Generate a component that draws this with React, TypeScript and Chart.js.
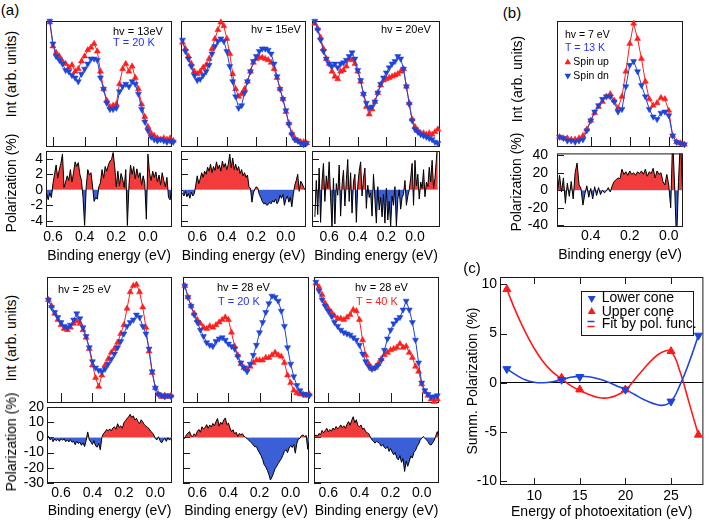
import React, { useEffect, useRef } from "react";
import { Chart, registerables } from "chart.js";

Chart.register(...registerables);

const FONT = "'Liberation Sans', Arial, Helvetica, sans-serif";
Chart.defaults.font.family = FONT;
Chart.defaults.font.size = 14;
Chart.defaults.color = "#000";

// ---------------- colours ----------------
const RED = "#ff1f1f";
const BLUE = "#1e44d8";
const RED_FILL = "#f23b3b";
const BLUE_FILL = "#3b5fd6";
const T_BLUE = "#2233ff";
const T_RED = "#ff2222";

// ---------------- tick values ----------------
const X_TICKS_A = [0.6, 0.4, 0.2, 0.0];
const X_TICKS_B = [0.4, 0.2, 0.0];
const X_MINOR_B = [0.4, 0.3, 0.2, 0.1, 0.0];
const Y_TICKS_ROW1 = [-4, -2, 0, 2, 4];
const Y_TICKS_ROW2 = [-30, -20, -10, 0, 10, 20];
const Y_TICKS_B = [-40, -20, 0, 20, 40];
const Y_TICKS_C = [-10, -5, 0, 5, 10];
const X_TICKS_C = [10, 15, 20, 25];

// ---------------- binding-energy grids (eV) ----------------
const E_SPEC = [
  0.70, 0.68, 0.66, 0.64, 0.62, 0.60, 0.58, 0.56, 0.54, 0.52,
  0.50, 0.48, 0.46, 0.44, 0.42, 0.40, 0.38, 0.36, 0.34, 0.32,
  0.30, 0.28, 0.26, 0.24, 0.22, 0.20, 0.18, 0.16, 0.14, 0.12,
  0.10, 0.08, 0.06, 0.04, 0.02, 0.00, -0.02, -0.04, -0.06, -0.08,
  -0.10, -0.12, -0.14, -0.16,
];
const E_POL = [
  0.70, 0.69, 0.68, 0.67, 0.66, 0.65, 0.64, 0.63, 0.62, 0.61,
  0.60, 0.59, 0.58, 0.57, 0.56, 0.55, 0.54, 0.53, 0.52, 0.51,
  0.50, 0.49, 0.48, 0.47, 0.46, 0.45, 0.44, 0.43, 0.42, 0.41,
  0.40, 0.39, 0.38, 0.37, 0.36, 0.35, 0.34, 0.33, 0.32, 0.31,
  0.30, 0.29, 0.28, 0.27, 0.26, 0.25, 0.24, 0.23, 0.22, 0.21,
  0.20, 0.19, 0.18, 0.17, 0.16, 0.15, 0.14, 0.13, 0.12, 0.11,
  0.10, 0.09, 0.08, 0.07, 0.06, 0.05, 0.04, 0.03, 0.02, 0.01,
  0.00, -0.01, -0.02, -0.03, -0.04, -0.05, -0.06, -0.07, -0.08, -0.09,
  -0.10, -0.11, -0.12, -0.13, -0.14, -0.15, -0.16,
];

// ---------------- spectra (arb. units, 0..1 of panel) ----------------
const UP_13 = [
  null, null, null, null, 0.99, 0.80, 0.75, 0.72, 0.68, 0.66,
  0.63, 0.65, 0.60, 0.62, 0.68, 0.72, 0.77, 0.79, 0.82, 0.76,
  0.60, 0.46, 0.37, 0.32, 0.33, 0.34, 0.50, 0.62, 0.66, 0.60,
  0.64, 0.55, 0.46, 0.34, 0.24, 0.16, 0.11, 0.09, 0.07, 0.06,
  0.07, 0.06, 0.07, 0.05,
];
const DN_13 = [
  null, null, null, null, 1.00, 0.82, 0.72, 0.69, 0.66, 0.61,
  0.60, 0.57, 0.55, 0.52, 0.58, 0.62, 0.66, 0.70, 0.70, 0.69,
  0.55, 0.46, 0.35, 0.30, 0.30, 0.31, 0.44, 0.48, 0.50, 0.48,
  0.52, 0.50, 0.42, 0.30, 0.20, 0.13, 0.08, 0.06, 0.05, 0.06,
  0.05, 0.04, 0.05, 0.04,
];
const UP_15 = [
  0.83, 0.78, 0.72, 0.66, 0.60, 0.58, 0.60, 0.63, 0.65, 0.70,
  0.78, 0.86, 0.93, 0.99, 0.96, 0.86, 0.74, 0.58, 0.46, 0.40,
  0.42, 0.46, 0.52, 0.60, 0.67, 0.70, 0.71, 0.71, 0.70, 0.69,
  0.67, 0.62, 0.55, 0.46, 0.38, 0.28, 0.19, 0.11, 0.07, 0.05,
  0.04, 0.04, 0.03, null,
];
const DN_15 = [
  0.85, 0.76, 0.70, 0.64, 0.57, 0.53, 0.54, 0.57, 0.60, 0.65,
  0.74, 0.80, 0.84, 0.86, 0.84, 0.76, 0.64, 0.52, 0.40, 0.31,
  0.33, 0.43, 0.52, 0.60, 0.68, 0.72, 0.76, 0.78, 0.78, 0.77,
  0.74, 0.66, 0.56, 0.46, 0.38, 0.29, 0.18, 0.10, 0.06, 0.05,
  0.03, 0.02, 0.03, null,
];
const UP_20 = [
  0.98, 0.94, 0.87, 0.78, 0.70, 0.66, 0.60, 0.56, 0.54, 0.60,
  0.61, 0.64, 0.70, 0.69, 0.66, 0.60, 0.52, 0.42, 0.32, 0.26,
  0.30, 0.36, 0.43, 0.49, 0.53, 0.54, 0.55, 0.56, 0.57, 0.58,
  0.60, 0.62, 0.48, 0.35, 0.22, 0.16, 0.13, 0.11, 0.11, 0.10,
  0.11, 0.10, 0.12, 0.14,
];
const DN_20 = [
  1.00, 0.93, 0.85, 0.76, 0.70, 0.66, 0.64, 0.66, 0.63, 0.66,
  0.67, 0.69, 0.72, 0.75, 0.70, 0.61, 0.53, 0.42, 0.35, 0.31,
  0.32, 0.36, 0.43, 0.50, 0.55, 0.59, 0.63, 0.66, 0.68, 0.72,
  0.70, 0.62, 0.48, 0.34, 0.21, 0.14, 0.12, 0.10, 0.09, 0.08,
  0.07, 0.06, 0.04, 0.03,
];
const UP_25 = [
  null, 0.82, 0.77, 0.71, 0.66, 0.62, 0.59, 0.58, 0.60, 0.63,
  0.65, 0.63, 0.58, 0.52, 0.43, 0.30, 0.20, 0.13, 0.22, 0.30,
  0.35, 0.40, 0.43, 0.48, 0.55, 0.62, 0.75, 0.88, 0.93, 0.94,
  0.88, 0.76, 0.60, 0.41, 0.24, 0.12, 0.07, 0.05, 0.06, 0.05,
  0.06, null, null, null,
];
const DN_25 = [
  null, 0.82, 0.76, 0.72, 0.68, 0.64, 0.61, 0.60, 0.62, 0.66,
  0.71, 0.67, 0.60, 0.53, 0.44, 0.33, 0.28, 0.26, 0.25, 0.27,
  0.31, 0.35, 0.39, 0.44, 0.49, 0.55, 0.61, 0.64, 0.66, 0.70,
  0.68, 0.61, 0.55, 0.43, 0.25, 0.12, 0.07, 0.06, 0.05, 0.06,
  0.05, null, null, null,
];
const UP_28_20K = [
  null, 0.93, 0.84, 0.77, 0.71, 0.66, 0.63, 0.60, 0.59, 0.61,
  0.60, 0.62, 0.64, 0.66, 0.68, 0.66, 0.56, 0.45, 0.38, 0.31,
  0.28, 0.27, 0.29, 0.32, 0.34, 0.34, 0.34, 0.36, 0.36, 0.38,
  0.40, 0.38, 0.37, 0.32, 0.22, 0.16, 0.10, 0.08, 0.07, 0.07,
  0.06, 0.07, null, null,
];
const DN_28_20K = [
  null, 0.93, 0.84, 0.77, 0.70, 0.64, 0.58, 0.53, 0.48, 0.46,
  0.45, 0.49, 0.51, 0.52, 0.50, 0.47, 0.45, 0.43, 0.37, 0.32,
  0.28, 0.25, 0.31, 0.38, 0.46, 0.56, 0.64, 0.72, 0.79, 0.85,
  0.84, 0.81, 0.73, 0.61, 0.44, 0.31, 0.21, 0.14, 0.10, 0.07,
  0.07, 0.06, null, null,
];
const UP_28_40K = [
  null, 0.95, 0.92, 0.86, 0.79, 0.75, 0.72, 0.69, 0.67, 0.67,
  0.66, 0.68, 0.70, 0.74, 0.73, 0.66, 0.50, 0.38, 0.31, 0.27,
  0.28, 0.31, 0.35, 0.38, 0.40, 0.42, 0.43, 0.44, 0.47, 0.44,
  0.45, 0.40, 0.36, 0.29, 0.25, 0.15, 0.09, 0.06, 0.03, 0.01,
  0.03, null, null, null,
];
const DN_28_40K = [
  null, 0.96, 0.89, 0.82, 0.77, 0.73, 0.69, 0.64, 0.61, 0.58,
  0.56, 0.55, 0.54, 0.52, 0.50, 0.46, 0.39, 0.33, 0.29, 0.27,
  0.28, 0.30, 0.34, 0.42, 0.51, 0.58, 0.63, 0.66, 0.68, 0.74,
  0.81, 0.74, 0.64, 0.50, 0.32, 0.16, 0.10, 0.07, 0.05, 0.05,
  0.06, null, null, null,
];
const UP_7 = [
  null, null, null, null, null, null, null, 0.08, 0.07, 0.07,
  0.06, 0.06, 0.07, 0.09, 0.14, 0.21, 0.27, 0.32, 0.36, 0.40,
  0.42, 0.37, 0.31, 0.40, 0.60, 0.82, 0.98, 0.86, 0.70, 0.52,
  0.38, 0.33, 0.35, 0.39, 0.38, 0.29, 0.09, 0.04, 0.03, 0.02,
  null, null, null, null,
];
const DN_7 = [
  null, null, null, null, null, null, null, 0.08, 0.07, 0.05,
  0.05, 0.04, 0.05, 0.06, 0.13, 0.21, 0.28, 0.33, 0.38, 0.40,
  0.40, 0.36, 0.28, 0.30, 0.48, 0.65, 0.68, 0.60, 0.49, 0.40,
  0.30, 0.24, 0.22, 0.27, 0.28, 0.25, 0.09, 0.04, 0.03, 0.02,
  null, null, null, null,
];

// ---------------- spin polarization (%) ----------------
const POL_13 = [
  null, null, null, null, null, null, -0.5, -1.3, -0.4, -1.0,
  0.8, 2.0, 3.2, 1.5, 2.6, 3.4, 4.6, 0.3, 1.0, 1.8,
  1.2, 2.6, 1.0, 2.2, 3.6, 3.0, 3.5, 2.0, 1.2, -1.0,
  -4.6, 0.4, 2.6, 1.9, 2.2, 0.5, -1.5, -1.0, -1.2, 0.4,
  0.9, 2.6, 1.5, 3.0, 2.4, 3.2, 3.7, 3.9, 4.8, 3.0,
  0.4, 2.4, 0.5, 2.1, 1.4, 0.3, 2.6, -4.6, 0.5, 3.2,
  2.0, 3.0, 1.4, 2.7, 1.6, 2.2, 0.6, 1.8, 0.8, -3.8,
  4.6, 2.2, 1.2, 2.4, 1.6, 2.3, 1.0, 1.9, 0.6, 2.2,
  1.2, 0.4, 1.6, -1.0, -1.3, 0.2, null,
];
const POL_15 = [
  -0.4, -0.8, -0.2, -0.9, -0.5, -1.1, -0.3, -0.8, -0.5, 0.6,
  1.8, 0.8, 1.4, 2.2, 1.6, 2.4, 2.0, 2.9, 2.4, 3.3,
  2.2, 3.0, 2.5, 3.6, 2.7, 3.2, 2.4, 3.7, 2.9, 3.4,
  2.6, 3.3, 4.6, 2.8, 4.1, 2.6, 3.3, 2.5, 3.0, 2.1,
  2.6, 1.8, 2.2, 1.6, 1.9, 0.4, 0.2, -1.6, -0.4, 0.1,
  0.4, 0.2, -0.6, -1.0, -1.5, -1.8, -1.7, -2.0, -1.9, -1.6,
  -1.8, -1.4, -1.6, -1.2, -1.8, -1.5, -0.7, -1.1, -0.6, -2.0,
  -1.2, -0.8, -1.6, -1.0, -2.2, -0.6, 0.6, 1.2, 2.0, -0.2,
  1.1, 0.8, 0.3, 0.0, null, null, null,
];
const POL_20 = [
  -3.5, 1.2, -3.2, 2.8, -4.2, 1.0, 3.4, -1.5, 1.8, 0.2,
  3.6, -1.0, -4.8, 1.5, -4.4, 0.8, -0.7, 3.2, -3.4, 0.6,
  2.5, -2.1, 1.2, 3.9, -1.5, 2.2, -3.0, 1.0, 2.0, -4.2,
  0.5, 2.4, 3.6, -0.8, 1.5, 2.8, -2.4, 0.6, -1.0, -0.4,
  -3.4, 2.0, -1.2, -4.3, 0.4, -2.6, -1.0, -3.5, -0.6, -4.3,
  0.2, -3.9, -1.5, -4.7, -0.8, -2.0, 0.4, -4.7, -1.2, 0.0,
  -2.5, -1.0, -0.6, 1.2, -2.0, -0.8, 0.0, 1.5, 3.4, -2.0,
  3.8, 0.5, 2.0, -1.2, 1.0, 0.2, 2.6, -0.9, 1.0, 0.4,
  2.9, 1.0, 3.8, 0.2, 1.5, 4.0, 6.5,
];
const POL_25 = [
  null, -0.5, 0.8, -1.5, -0.6, -2.8, -1.0, -2.2, -1.2, -2.6,
  -0.8, -1.8, -1.0, -2.8, -1.6, -3.0, -1.4, -3.2, -2.4, -4.8,
  -2.6, -4.0, -3.2, -5.2, -3.6, -6.0, -2.0, 3.6, -1.6, -3.0,
  -4.6, -2.2, -5.6, -6.4, -4.0, -8.2, 0.0, 2.6, 3.6, 5.2,
  4.4, 5.6, 4.2, 6.2, 7.0, 5.4, 9.0, 6.6, 7.6, 6.0,
  9.6, 11.0, 12.4, 13.6, 15.2, 13.0, 14.2, 11.4, 12.6, 10.4,
  9.0, 11.6, 10.2, 8.4, 7.4, 6.6, 5.8, 4.0, 3.2, 1.6,
  -0.8, -1.6, 0.4, -2.2, -3.6, -2.0, -0.6, -2.6, -0.2, -1.8,
  -0.6, -3.0, null, null, null, null, null,
];
const POL_28_20K = [
  null, -0.4, -0.6, 1.8, 2.8, 3.8, 1.2, 0.5, 2.4, 1.2,
  4.0, 5.2, 3.4, 7.0, 5.6, 6.4, 8.4, 6.0, 8.2, 6.8,
  9.2, 7.6, 10.4, 12.4, 7.4, 10.0, 8.6, 11.4, 12.8, 8.4,
  9.4, 6.2, 3.8, 5.0, 2.2, 3.4, 0.6, 2.6, 1.8, 2.4,
  0.8, 0.0, -0.8, -1.8, -2.6, -3.8, -5.0, -6.2, -6.0, -8.4,
  -10.2, -12.0, -14.6, -18.0, -19.4, -21.6, -24.4, -28.0, -26.0, -23.4,
  -20.6, -19.0, -17.2, -15.6, -14.0, -11.8, -9.2, -8.0, -10.0, -7.0,
  -5.2, -6.6, -4.8, -10.4, -3.8, -1.0, -0.6, 1.2, 1.6, 0.6,
  1.2, -7.8, -2.0, null, null, null, null,
];
const POL_28_40K = [
  null, 0.4, 1.6, 0.8, 2.6, 1.8, 4.6, 3.0, 4.4, 6.0,
  3.6, 5.2, 4.0, 6.2, 5.0, 7.2, 5.6, 6.6, 8.2, 6.4,
  7.6, 6.0, 8.6, 10.4, 8.0, 11.2, 13.6, 9.6, 11.6, 7.8,
  7.0, 8.2, 5.4, 6.0, 3.8, 3.0, 2.4, 0.2, -1.6, -2.4,
  -3.8, -2.6, -3.2, -4.2, -5.8, -4.6, -6.6, -7.4, -6.0, -9.2,
  -7.4, -9.6, -11.4, -10.0, -13.6, -14.8, -12.0, -16.4, -14.0, -22.4,
  -15.6, -19.0, -15.8, -12.2, -13.6, -9.8, -8.6, -6.0, -4.4, -1.8,
  -0.6, 0.6, -0.4, -1.6, -2.8, -4.6, -5.0, -3.6, -2.0, 0.8,
  3.8, 1.0, null, null, null, null, null,
];
const POL_7 = [
  null, null, null, null, null, null, null, null, null, null,
  null, null, null, 0, 17, -2, 14, -15, 8, -7,
  10, -10, 20, 31, 6, 2, -17, -4, 5, -8,
  2, -10, 4, -6, 3, -5, 0, -3, -1, 3,
  -2, 5, 10, 12, 14, 13, 24, 18, 21, 17,
  22, 18, 20, 17, 21, 19, 22, 18, 24, 16,
  21, 19, 25, 14, 22, 18, 20, 10, 6, 18,
  6, -20, 60, 5, -60, 10, 60, 5, null, null,
  null, null, null, null, null, null, null,
];

// ---------------- panel (c): summed polarization ----------------
const ENERGY_C = [7, 13, 15, 20, 25, 28];
const UPPER_CONE = [9.5, 0.5, -0.7, -0.7, 3.2, -5.3];
const LOWER_CONE = [1.4, 0.3, 0.6, -0.7, -1.9, 4.8];
const FIT_E = [7, 8, 9, 10, 11, 12, 13, 14, 15, 16, 17, 18, 19, 20, 21, 22, 23, 24, 25, 26, 27, 28];
const FIT_UPPER = [9.5, 7.2, 5.2, 3.5, 2.1, 1.1, 0.4, -0.3, -0.8, -1.2, -1.5, -1.55, -1.3, -0.75, 0.3, 1.4, 2.4, 3.1, 3.2, 1.1, -2.1, -5.3];
const FIT_LOWER = [1.4, 0.8, 0.3, 0.05, 0.0, 0.1, 0.3, 0.55, 0.65, 0.6, 0.4, 0.1, -0.3, -0.7, -1.2, -1.7, -2.1, -2.3, -1.9, -0.2, 2.1, 4.8];

// ---------------- helpers ----------------
function pts(xs: number[], ys: (number | null)[]) {
  return xs
    .map((x, i) => ({ x, y: ys[i] }))
    .filter((p) => p.y !== null && p.y !== undefined);
}

function tri(ctx: any, x: number, y: number, r: number, down: boolean, color: string) {
  const s = down ? -1 : 1;
  ctx.beginPath();
  ctx.moveTo(x, y - s * r);
  ctx.lineTo(x + r * 0.866, y + s * r * 0.5);
  ctx.lineTo(x - r * 0.866, y + s * r * 0.5);
  ctx.closePath();
  ctx.fillStyle = color;
  ctx.fill();
}

function makeDecor(o: any) {
  return {
    id: "decor",
    beforeDatasetsDraw(chart: any) {
      const { ctx, chartArea: a, scales } = chart;
      const L = o.tickLen ?? 7;
      ctx.save();
      ctx.strokeStyle = "#1a1a1a";
      ctx.lineWidth = 1;
      ctx.strokeRect(a.left + 0.5, a.top + 0.5, a.right - a.left - 1, a.bottom - a.top - 1);
      ctx.beginPath();
      for (const v of o.bottomTicks ?? []) {
        const px = Math.round(scales.x.getPixelForValue(v)) + 0.5;
        ctx.moveTo(px, a.bottom);
        ctx.lineTo(px, a.bottom - L);
      }
      for (const v of o.topTicks ?? []) {
        const px = Math.round(scales.x.getPixelForValue(v)) + 0.5;
        ctx.moveTo(px, a.top);
        ctx.lineTo(px, a.top + L);
      }
      for (const v of o.leftTicks ?? []) {
        const py = Math.round(scales.y.getPixelForValue(v)) + 0.5;
        ctx.moveTo(a.left, py);
        ctx.lineTo(a.left + L, py);
      }
      ctx.stroke();
      ctx.restore();
    },
    afterDatasetsDraw(chart: any) {
      const { ctx, chartArea: a } = chart;
      ctx.save();
      if (o.box) {
        const [x1, y1, x2, y2] = o.box;
        ctx.fillStyle = "#fff";
        ctx.fillRect(a.left + x1, a.top + y1, x2 - x1, y2 - y1);
        ctx.strokeStyle = "#1a1a1a";
        ctx.lineWidth = 1;
        ctx.strokeRect(a.left + x1 + 0.5, a.top + y1 + 0.5, x2 - x1, y2 - y1);
      }
      for (const l of o.lines ?? []) {
        ctx.strokeStyle = l.c;
        ctx.lineWidth = 1.5;
        ctx.beginPath();
        ctx.moveTo(a.left + l.x1, a.top + l.y);
        ctx.lineTo(a.left + l.x2, a.top + l.y);
        ctx.stroke();
      }
      for (const m of o.markers ?? []) tri(ctx, a.left + m.x, a.top + m.y, m.r, !!m.down, m.c);
      ctx.textBaseline = "middle";
      ctx.textAlign = "left";
      for (const t of o.texts ?? []) {
        ctx.font = `${t.s ?? 11}px ${FONT}`;
        ctx.fillStyle = t.c ?? "#000";
        ctx.fillText(t.t, a.left + t.x, a.top + t.y);
      }
      ctx.restore();
    },
  };
}

function specDs(ys: (number | null)[], color: string, down: boolean) {
  return {
    data: pts(E_SPEC, ys),
    borderColor: color,
    backgroundColor: color,
    borderWidth: 1,
    pointStyle: "triangle",
    pointRadius: 3.5,
    pointRotation: down ? 180 : 0,
    pointBackgroundColor: color,
    pointBorderColor: color,
    pointBorderWidth: 0.5,
    tension: 0,
    clip: false,
  };
}

function specConfig(p: any) {
  return {
    type: "line",
    data: { datasets: [specDs(p.blue, BLUE, true), specDs(p.red, RED, false)] },
    options: {
      responsive: false,
      animation: false,
      events: [],
      devicePixelRatio: 1,
      layout: { padding: 8 },
      scales: {
        x: { type: "linear", reverse: true, min: p.xmin, max: p.xmax, display: false },
        y: { type: "linear", min: 0, max: 1, display: false },
      },
      plugins: { legend: { display: false }, tooltip: { enabled: false } },
    },
    plugins: [makeDecor({ bottomTicks: p.ticks, tickLen: 10, texts: p.texts, markers: p.markers })],
  };
}

function polConfig(p: any) {
  return {
    type: "line",
    data: {
      datasets: [
        {
          data: pts(E_POL, p.vals),
          borderColor: "#000",
          borderWidth: 1,
          pointRadius: 0,
          tension: 0,
          fill: { target: "origin", above: RED_FILL, below: BLUE_FILL },
        },
      ],
    },
    options: {
      responsive: false,
      animation: false,
      events: [],
      devicePixelRatio: 1,
      layout: { padding: { left: 0, top: 14, right: 6, bottom: 0 } },
      scales: {
        x: {
          type: "linear",
          reverse: true,
          min: p.xmin,
          max: p.xmax,
          afterBuildTicks: (s: any) => {
            s.ticks = p.xTicks.map((v: number) => ({ value: v }));
          },
          ticks: {
            autoSkip: false,
            maxRotation: 0,
            minRotation: 0,
            padding: p.tickPadX,
            font: { size: 14 },
            color: "#000",
            callback: (v: any) => Number(v).toFixed(1),
          },
          grid: { display: false, drawTicks: false },
          border: { display: false },
          title: {
            display: true,
            text: "Binding energy (eV)",
            font: { size: 14 },
            color: "#000",
            padding: { top: 0, bottom: p.titlePadB },
          },
          afterFit: (s: any) => {
            s.height = p.xH;
          },
        },
        y: {
          type: "linear",
          min: p.ymin,
          max: p.ymax,
          afterBuildTicks: (s: any) => {
            s.ticks = p.yTicks.map((v: number) => ({ value: v }));
          },
          ticks: {
            display: p.showY,
            autoSkip: false,
            padding: p.yPad ?? 3,
            font: { size: 14 },
            color: "#000",
            callback: (v: any) => String(v),
          },
          grid: { display: false, drawTicks: false },
          border: { display: false },
          afterFit: (s: any) => {
            s.width = p.yW;
          },
        },
      },
      plugins: { legend: { display: false }, tooltip: { enabled: false } },
    },
    plugins: [makeDecor({ leftTicks: p.yTicks, tickLen: 7 })],
  };
}

function cConfig() {
  const C_RED = "#ff1a1a";
  const C_BLUE = "#1e44e0";
  return {
    type: "line",
    data: {
      datasets: [
        {
          data: pts(ENERGY_C, LOWER_CONE),
          showLine: false,
          pointStyle: "triangle",
          pointRotation: 180,
          pointRadius: 4.6,
          pointBackgroundColor: C_BLUE,
          pointBorderColor: C_BLUE,
          borderColor: C_BLUE,
        },
        {
          data: pts(ENERGY_C, UPPER_CONE),
          showLine: false,
          pointStyle: "triangle",
          pointRadius: 4.6,
          pointBackgroundColor: C_RED,
          pointBorderColor: C_RED,
          borderColor: C_RED,
        },
        { data: pts(FIT_E, FIT_LOWER), borderColor: C_BLUE, borderWidth: 1.6, pointRadius: 0, tension: 0.4, fill: false },
        { data: pts(FIT_E, FIT_UPPER), borderColor: C_RED, borderWidth: 1.6, pointRadius: 0, tension: 0.4, fill: false },
      ],
    },
    options: {
      responsive: false,
      animation: false,
      events: [],
      devicePixelRatio: 1,
      layout: { padding: { left: 0, top: 15, right: 1, bottom: 0 } },
      scales: {
        x: {
          type: "linear",
          min: 6.25,
          max: 28.55,
          afterBuildTicks: (s: any) => {
            s.ticks = X_TICKS_C.map((v) => ({ value: v }));
          },
          ticks: { autoSkip: false, maxRotation: 0, padding: 3, font: { size: 14 }, color: "#000" },
          grid: { display: false, drawTicks: false },
          border: { display: false },
          title: {
            display: true,
            text: "Energy of photoexitation (eV)",
            font: { size: 14 },
            color: "#000",
            padding: { top: 0, bottom: 0.6 },
          },
          afterFit: (s: any) => {
            s.height = 36;
          },
        },
        y: {
          type: "linear",
          min: -10.4,
          max: 10.75,
          afterBuildTicks: (s: any) => {
            s.ticks = Y_TICKS_C.map((v) => ({ value: v }));
          },
          ticks: { autoSkip: false, padding: 3, font: { size: 14 }, color: "#000" },
          grid: {
            drawTicks: false,
            lineWidth: 1,
            color: (c: any) => (c.tick && c.tick.value === 0 ? "#000" : "rgba(0,0,0,0)"),
          },
          border: { display: false },
          title: {
            display: true,
            text: "Summ. Polarization (%)",
            font: { size: 14 },
            color: "#000",
            padding: { top: 4.6, bottom: 0 },
          },
          afterFit: (s: any) => {
            s.width = 40;
          },
        },
      },
      plugins: { legend: { display: false }, tooltip: { enabled: false } },
    },
    plugins: [
      makeDecor({
        leftTicks: Y_TICKS_C,
        bottomTicks: X_TICKS_C,
        topTicks: X_TICKS_C,
        tickLen: 7,
        box: [81, 14, 193, 58],
        markers: [
          { x: 91.7, y: 21.3, r: 4.6, c: C_BLUE, down: true },
          { x: 91.7, y: 34.7, r: 4.6, c: C_RED },
        ],
        lines: [
          { x1: 87.5, x2: 94.5, y: 44.5, c: C_BLUE },
          { x1: 87.5, x2: 94.5, y: 49.5, c: C_RED },
        ],
        texts: [
          { t: "Lower cone", x: 101.7, y: 21.3, s: 14 },
          { t: "Upper cone", x: 101.7, y: 34.7, s: 14 },
          { t: "Fit by pol. func.", x: 101.7, y: 47.3, s: 14 },
        ],
      }),
    ],
  };
}

// ---------------- components ----------------
function ChartBox({ x, y, w, h, make }: { x: number; y: number; w: number; h: number; make: () => any }) {
  const ref = useRef<HTMLCanvasElement>(null);
  useEffect(() => {
    const chart = new Chart(ref.current as HTMLCanvasElement, make());
    return () => chart.destroy();
  }, []);
  return (
    <canvas
      ref={ref}
      width={w}
      height={h}
      style={{ position: "absolute", left: x, top: y, width: w, height: h, display: "block" }}
    />
  );
}

function Label({ text, x, y, rot, size }: { text: string; x: number; y: number; rot?: boolean; size?: number }) {
  return (
    <div
      style={{
        position: "absolute",
        left: x,
        top: y,
        transform: `translate(-50%, -50%)${rot ? " rotate(-90deg)" : ""}`,
        font: `${size ?? 14}px ${FONT}`,
        lineHeight: 1,
        whiteSpace: "nowrap",
        color: "#000",
      }}
    >
      {text}
    </div>
  );
}

export default function App() {
  return (
    <div
      style={{
        position: "absolute",
        left: 0,
        top: 0,
        width: 709,
        height: 521,
        overflow: "hidden",
        background: "#fff",
        fontFamily: FONT,
      }}
    >
      {/* row 1 spectra */}
      <ChartBox x={38} y={13} w={142} h={142} make={() => specConfig({
        xmin: -0.152, xmax: 0.644, red: UP_13, blue: DN_13, ticks: X_TICKS_A,
        texts: [{ t: "hv = 13eV", x: 67, y: 10.7 }, { t: "T = 20 K", x: 67, y: 22.3, c: T_BLUE }],
      })} />
      <ChartBox x={173} y={13} w={141} h={142} make={() => specConfig({
        xmin: -0.136, xmax: 0.71, red: UP_15, blue: DN_15, ticks: X_TICKS_A,
        texts: [{ t: "hv = 15eV", x: 70, y: 9 }],
      })} />
      <ChartBox x={304} y={13} w={144} h={142} make={() => specConfig({
        xmin: -0.175, xmax: 0.72, red: UP_20, blue: DN_20, ticks: X_TICKS_A,
        texts: [{ t: "hv = 20eV", x: 69, y: 9 }],
      })} />
      {/* row 2 spectra */}
      <ChartBox x={39} y={269} w={141} h={142} make={() => specConfig({
        xmin: -0.106, xmax: 0.689, red: UP_25, blue: DN_25, ticks: X_TICKS_A,
        texts: [{ t: "hv = 25 eV", x: 11, y: 13 }],
      })} />
      <ChartBox x={175} y={269} w={142} h={142} make={() => specConfig({
        xmin: -0.118, xmax: 0.692, red: UP_28_20K, blue: DN_28_20K, ticks: X_TICKS_A,
        texts: [{ t: "hv = 28 eV", x: 34, y: 11.3 }, { t: "T = 20 K", x: 35, y: 24.7, c: T_BLUE }],
      })} />
      <ChartBox x={306} y={269} w={141} h={142} make={() => specConfig({
        xmin: -0.111, xmax: 0.692, red: UP_28_40K, blue: DN_28_40K, ticks: X_TICKS_A,
        texts: [{ t: "hv = 28 eV", x: 41, y: 11 }, { t: "T = 40 K", x: 42, y: 24.7, c: T_RED }],
      })} />
      {/* (b) spectrum */}
      <ChartBox x={549} y={13} w={142} h={142} make={() => specConfig({
        xmin: -0.073, xmax: 0.573, red: UP_7, blue: DN_7, ticks: X_MINOR_B,
        texts: [
          { t: "hv = 7 eV", x: 8, y: 14, s: 10.5 },
          { t: "T = 13 K", x: 8, y: 27.3, s: 10.5, c: T_BLUE },
          { t: "Spin up", x: 16.3, y: 41.3, s: 10.5 },
          { t: "Spin dn", x: 16.3, y: 54.7, s: 10.5 },
        ],
        markers: [
          { x: 10.8, y: 41.3, r: 3.8, c: RED },
          { x: 10.8, y: 54.7, r: 3.8, c: BLUE, down: true },
        ],
      })} />

      {/* row 1 polarization */}
      <ChartBox x={20} y={137} w={158} h={129} make={() => polConfig({
        xmin: -0.152, xmax: 0.644, vals: POL_13, ymin: -4.8, ymax: 5, yTicks: Y_TICKS_ROW1, xTicks: X_TICKS_A,
        showY: true, yW: 26, xH: 39, tickPadX: 2, titlePadB: 1.6,
      })} />
      <ChartBox x={175} y={137} w={137} h={129} make={() => polConfig({
        xmin: -0.136, xmax: 0.71, vals: POL_15, ymin: -4.8, ymax: 5, yTicks: Y_TICKS_ROW1, xTicks: X_TICKS_A,
        showY: false, yW: 6, xH: 39, tickPadX: 2, titlePadB: 1.6,
      })} />
      <ChartBox x={306} y={137} w={140} h={129} make={() => polConfig({
        xmin: -0.175, xmax: 0.72, vals: POL_20, ymin: -4.8, ymax: 5, yTicks: Y_TICKS_ROW1, xTicks: X_TICKS_A,
        showY: false, yW: 6, xH: 39, tickPadX: 2, titlePadB: 1.6,
      })} />
      {/* row 2 polarization */}
      <ChartBox x={18} y={393} w={160} h={128} make={() => polConfig({
        xmin: -0.106, xmax: 0.689, vals: POL_25, ymin: -30, ymax: 20, yTicks: Y_TICKS_ROW2, xTicks: X_TICKS_A,
        showY: true, yW: 29, xH: 38, tickPadX: 2, titlePadB: 1.6,
      })} />
      <ChartBox x={177} y={393} w={138} h={128} make={() => polConfig({
        xmin: -0.118, xmax: 0.692, vals: POL_28_20K, ymin: -30, ymax: 20, yTicks: Y_TICKS_ROW2, xTicks: X_TICKS_A,
        showY: false, yW: 6, xH: 38, tickPadX: 2, titlePadB: 1.6,
      })} />
      <ChartBox x={308} y={393} w={137} h={128} make={() => polConfig({
        xmin: -0.111, xmax: 0.692, vals: POL_28_40K, ymin: -30, ymax: 20, yTicks: Y_TICKS_ROW2, xTicks: X_TICKS_A,
        showY: false, yW: 6, xH: 38, tickPadX: 2, titlePadB: 1.6,
      })} />
      {/* (b) polarization */}
      <ChartBox x={522} y={136} w={167} h={130} make={() => polConfig({
        xmin: -0.073, xmax: 0.573, vals: POL_7, ymin: -42, ymax: 42, yTicks: Y_TICKS_B, xTicks: X_TICKS_B,
        showY: true, yW: 35, xH: 39, tickPadX: 1, titlePadB: 2.6, yPad: 9,
      })} />

      {/* (c) summary */}
      <ChartBox x={460} y={262} w={249} h={259} make={cConfig} />

      {/* panel letters and rotated axis titles */}
      <Label text="(a)" x={10} y={9} size={15} />
      <Label text="(b)" x={512} y={12} size={15} />
      <Label text="(c)" x={472} y={267} size={15} />
      <Label text="Int (arb. units)" x={11} y={73.5} rot />
      <Label text="Polarization (%)" x={11} y={183} rot />
      <Label text="Int (arb. units)" x={11} y={337.5} rot />
      <Label text="Polarization (%)" x={11} y={442} rot />
      <Label text="Int (arb. units)" x={517} y={79} rot />
      <Label text="Polarization (%)" x={516} y={182} rot />
    </div>
  );
}
